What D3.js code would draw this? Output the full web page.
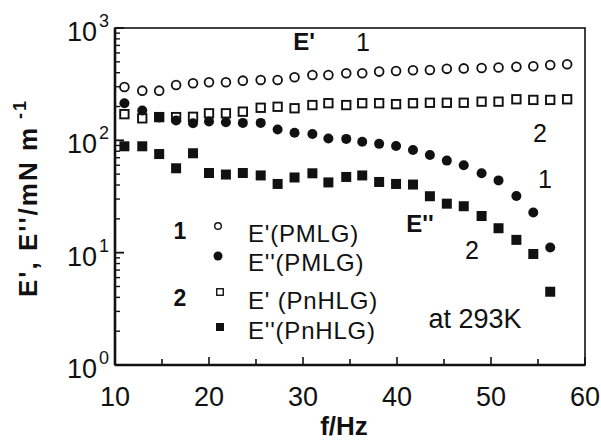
<!DOCTYPE html>
<meta charset="utf-8">
<script src="https://d3js.org/d3.v7.min.js"></script>
<style>
  body { margin: 0; background: #fff; }
  text { font-family: "Liberation Sans", Arial, sans-serif; fill: #111; }
</style>
<body>
<div id="chart"></div>
<script>

// frequency of each measurement (Hz)
var freq = [11.0, 12.9, 14.7, 16.5, 18.3, 20.0, 21.8, 23.6, 25.5, 27.3, 29.1, 31.0, 32.7, 34.6,
            36.3, 38.1, 39.9, 41.7, 43.5, 45.3, 47.1, 49.0, 50.8, 52.7, 54.5, 56.3, 58.1]

// E' and E'' (mN/m) for the two films
var e1PMLG  = [298, 277, 277, 311, 322, 329, 329, 340, 344, 344, 364, 382, 382, 395,
               395, 409, 414, 420, 423, 433, 437, 441, 445, 451, 456, 468, 476]
var e2PMLG  = [214, 184, 160, 150, 142, 147, 145, 143, 143, 125, 117, 114, 104, 103,
               97, 93, 89, 82, 74, 66, 60, 51, 44, 32, 22.8, 11.1]
var e1PnHLG = [171, 157, 161, 161, 162, 174, 174, 180, 195, 199, 193, 206, 214, 206,
               214, 214, 210, 214, 216, 216, 216, 221, 221, 232, 229, 229, 232]
var e2PnHLG = [88.5, 88.5, 75.5, 56.4, 76.7, 51.2, 49.6, 51.2, 48.7, 40.9, 46.7, 50.9, 42.2, 47.2,
               48.7, 42.6, 40.9, 40.4, 31.8, 27.3, 25.9, 21.2, 16.5, 13.0, 9.73, 4.49]

var xTicks = [10, 20, 30, 40, 50, 60]
var yPowers = [0, 1, 2, 3]

var width = 601, height = 442
// plot box (note: "top" is reserved by the browser, so use other names)
var pLeft = 115, pRight = 585, pTop = 28, pBottom = 365

var svg = d3.select("#chart").append("svg")
    .attr("width", width)
    .attr("height", height)

var x = d3.scaleLinear().domain([10, 60]).range([pLeft, pRight])
var y = d3.scaleLog().domain([1, 1000]).range([pBottom, pTop])

// frame
svg.append("rect")
    .attr("x", pLeft).attr("y", pTop)
    .attr("width", pRight - pLeft).attr("height", pBottom - pTop)
    .attr("fill", "none").attr("stroke", "#111").attr("stroke-width", 1.6)
svg.append("line").attr("x1", pLeft).attr("x2", pLeft).attr("y1", pTop).attr("y2", pBottom)
    .attr("stroke", "#111").attr("stroke-width", 2.6)
svg.append("line").attr("x1", pLeft).attr("x2", pRight).attr("y1", pBottom).attr("y2", pBottom)
    .attr("stroke", "#111").attr("stroke-width", 2.6)

// bottom ticks (inside)
var xMinor = d3.range(10, 61, 5)
svg.selectAll(".xt").data(xMinor).enter().append("line")
    .attr("x1", function(d) { return x(d) }).attr("x2", function(d) { return x(d) })
    .attr("y1", pBottom).attr("y2", function(d) { return d % 10 == 0 ? pBottom - 8 : pBottom - 6 })
    .attr("stroke", "#111").attr("stroke-width", 1.6)

svg.selectAll(".xl").data(xTicks).enter().append("text")
    .attr("x", function(d) { return x(d) }).attr("y", 406)
    .attr("text-anchor", "middle").style("font-size", "27px")
    .text(function(d) { return d })

// left ticks (log, inside)
var yMinor = []
yPowers.slice(0, 3).forEach(function(p) {
  for (var m = 2; m <= 9; m++) yMinor.push(m * Math.pow(10, p))
})
svg.selectAll(".ym").data(yMinor).enter().append("line")
    .attr("x1", pLeft).attr("x2", pLeft + 5)
    .attr("y1", function(d) { return y(d) }).attr("y2", function(d) { return y(d) })
    .attr("stroke", "#111").attr("stroke-width", 1.4)
svg.selectAll(".yM").data(yPowers).enter().append("line")
    .attr("x1", pLeft).attr("x2", pLeft + 9)
    .attr("y1", function(d) { return y(Math.pow(10, d)) }).attr("y2", function(d) { return y(Math.pow(10, d)) })
    .attr("stroke", "#111").attr("stroke-width", 1.8)

svg.selectAll(".yl").data(yPowers).enter().append("text")
    .attr("x", 97).attr("y", function(d) { return y(Math.pow(10, d)) + 13 })
    .attr("text-anchor", "end").style("font-size", "27px")
    .text("10")
svg.selectAll(".ys").data(yPowers).enter().append("text")
    .attr("x", 99).attr("y", function(d) { return y(Math.pow(10, d)) - 1 })
    .style("font-size", "18px")
    .text(function(d) { return d })

// axis titles
svg.append("text")
    .attr("x", 344).attr("y", 435)
    .attr("text-anchor", "middle")
    .style("font-size", "26px").style("font-weight", "bold")
    .text("f/Hz")

var yt = svg.append("text")
    .attr("transform", "translate(37,198) rotate(-90)")
    .attr("text-anchor", "middle")
    .style("font-size", "26px").style("font-weight", "bold").style("letter-spacing", "2px")
yt.append("tspan").text("E', E''/mN m")
yt.append("tspan").attr("dy", -11).style("font-size", "18px").text(" -1")

// series
function pts(vals) {
  return vals.map(function(v, i) { return {f: freq[i], v: v} })
}

svg.selectAll(".s2a").data(pts(e2PnHLG)).enter().append("rect")
    .attr("x", function(d) { return x(d.f) - 5 }).attr("y", function(d) { return y(d.v) - 5 })
    .attr("width", 10).attr("height", 10).attr("fill", "#111")

svg.selectAll(".s1b").data(pts(e2PMLG)).enter().append("circle")
    .attr("cx", function(d) { return x(d.f) }).attr("cy", function(d) { return y(d.v) })
    .attr("r", 5).attr("fill", "#111")

svg.selectAll(".s2b").data(pts(e1PnHLG)).enter().append("rect")
    .attr("x", function(d) { return x(d.f) - 4.2 }).attr("y", function(d) { return y(d.v) - 4.2 })
    .attr("width", 8.4).attr("height", 8.4)
    .attr("fill", "none").attr("stroke", "#111").attr("stroke-width", 1.9)

svg.selectAll(".s1a").data(pts(e1PMLG)).enter().append("circle")
    .attr("cx", function(d) { return x(d.f) }).attr("cy", function(d) { return y(d.v) })
    .attr("r", 4.4).attr("fill", "#fff").attr("stroke", "#111").attr("stroke-width", 1.8)

// annotations inside the plot
function label(tx, ty, s, size, bold) {
  svg.append("text").attr("x", tx).attr("y", ty).attr("text-anchor", "middle")
      .style("font-size", size + "px").style("font-weight", bold ? "bold" : "normal")
      .text(s)
}
label(304, 50, "E'", 24, true)
label(363, 51, "1", 25, false)
label(540, 142, "2", 25, false)
label(545, 188, "1", 25, false)
label(420, 232, "E''", 24, true)
label(472, 259, "2", 25, false)
label(475, 328, "at 293K", 27, false)

// legend
var legend = [
  {num: "1", shape: "circle", fill: false, text: "E'(PMLG)",    my: 226, ty: 242},
  {num: "",  shape: "circle", fill: true,  text: "E''(PMLG)",   my: 256, ty: 271},
  {num: "2", shape: "square", fill: false, text: "E' (PnHLG)",  my: 292, ty: 309},
  {num: "",  shape: "square", fill: true,  text: "E''(PnHLG)",  my: 327, ty: 339}
]
legend.forEach(function(d) {
  if (d.num) label(180, d.ty - 3, d.num, 23, true)
  if (d.shape == "circle") {
    svg.append("circle").attr("cx", 218).attr("cy", d.my).attr("r", d.fill ? 4.5 : 3.3)
        .attr("fill", d.fill ? "#111" : "#fff").attr("stroke", "#111").attr("stroke-width", d.fill ? 0 : 1.4)
  } else {
    var s = d.fill ? 8 : 6.5
    svg.append("rect").attr("x", 220 - s / 2).attr("y", d.my - s / 2).attr("width", s).attr("height", s)
        .attr("fill", d.fill ? "#111" : "#fff").attr("stroke", "#111").attr("stroke-width", d.fill ? 0 : 1.4)
  }
  svg.append("text").attr("x", 248).attr("y", d.ty)
      .style("font-size", "24px").style("letter-spacing", "0.8px")
      .text(d.text)
})

</script>
</body>
